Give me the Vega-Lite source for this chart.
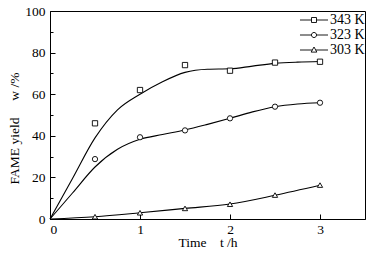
{
  "$schema": "https://vega.github.io/schema/vega-lite/v6.json",
  "width": 315,
  "height": 208,
  "autosize": {"type": "none"},
  "padding": {"left": 50, "top": 11, "right": 15, "bottom": 36},
  "background": "white",
  "config": {
    "view": {"stroke": "black", "strokeWidth": 1},
    "font": "Liberation Serif",
    "axis": {
      "grid": false,
      "domainColor": "black",
      "tickColor": "black",
      "labelColor": "black",
      "titleColor": "black",
      "labelFont": "Liberation Serif",
      "titleFont": "Liberation Serif",
      "labelFontSize": 13.5,
      "titleFontSize": 13.5,
      "titleFontWeight": "normal"
    },
    "legend": {"labelFont": "Liberation Serif", "labelFontSize": 14, "labelColor": "black"}
  },
  "datasets": {
    "fit": [
      {"series": "343 K", "t": 0, "y": 0}, {"series": "343 K", "t": 0.25, "y": 19.5}, {"series": "343 K", "t": 0.5, "y": 39},
      {"series": "343 K", "t": 0.75, "y": 52.5}, {"series": "343 K", "t": 1, "y": 60}, {"series": "343 K", "t": 1.25, "y": 66},
      {"series": "343 K", "t": 1.5, "y": 70.5}, {"series": "343 K", "t": 1.75, "y": 72}, {"series": "343 K", "t": 2, "y": 72.2},
      {"series": "343 K", "t": 2.25, "y": 73.5}, {"series": "343 K", "t": 2.5, "y": 74.8}, {"series": "343 K", "t": 2.75, "y": 75.4},
      {"series": "343 K", "t": 3, "y": 75.7},
      {"series": "323 K", "t": 0, "y": 0}, {"series": "323 K", "t": 0.25, "y": 12.5}, {"series": "323 K", "t": 0.5, "y": 25},
      {"series": "323 K", "t": 0.75, "y": 33.5}, {"series": "323 K", "t": 1, "y": 38.3}, {"series": "323 K", "t": 1.25, "y": 40.6},
      {"series": "323 K", "t": 1.5, "y": 42.8}, {"series": "323 K", "t": 1.75, "y": 45.5}, {"series": "323 K", "t": 2, "y": 48.4},
      {"series": "323 K", "t": 2.25, "y": 51.5}, {"series": "323 K", "t": 2.5, "y": 54}, {"series": "323 K", "t": 2.75, "y": 55.3},
      {"series": "323 K", "t": 3, "y": 55.9},
      {"series": "303 K", "t": 0, "y": 0}, {"series": "303 K", "t": 0.5, "y": 1.1}, {"series": "303 K", "t": 1, "y": 3},
      {"series": "303 K", "t": 1.5, "y": 5.1}, {"series": "303 K", "t": 2, "y": 7.2}, {"series": "303 K", "t": 2.5, "y": 11.4},
      {"series": "303 K", "t": 3, "y": 16.2}
    ],
    "obs": [
      {"series": "343 K", "t": 0.5, "y": 46}, {"series": "343 K", "t": 1, "y": 62}, {"series": "343 K", "t": 1.5, "y": 74},
      {"series": "343 K", "t": 2, "y": 71.3}, {"series": "343 K", "t": 2.5, "y": 75.2}, {"series": "343 K", "t": 3, "y": 75.6},
      {"series": "323 K", "t": 0.5, "y": 28.8}, {"series": "323 K", "t": 1, "y": 39.3}, {"series": "323 K", "t": 1.5, "y": 42.6},
      {"series": "323 K", "t": 2, "y": 48.4}, {"series": "323 K", "t": 2.5, "y": 54}, {"series": "323 K", "t": 3, "y": 55.9},
      {"series": "303 K", "t": 0.5, "y": 1.1}, {"series": "303 K", "t": 1, "y": 3}, {"series": "303 K", "t": 1.5, "y": 5.1},
      {"series": "303 K", "t": 2, "y": 7.1}, {"series": "303 K", "t": 2.5, "y": 11.5}, {"series": "303 K", "t": 3, "y": 16.3}
    ]
  },
  "encoding": {
    "x": {
      "field": "t", "type": "quantitative",
      "scale": {"domain": [0, 3.5], "nice": false},
      "axis": {
        "values": [0, 0.5, 1, 1.5, 2, 2.5, 3],
        "format": "d",
        "labelExpr": "datum.value % 1 === 0 ? datum.label : ''",
        "tickSize": {"condition": {"test": "datum.value % 1 === 0", "value": -5}, "value": -3},
        "labelPadding": 8,
        "title": "Time\u00a0\u00a0\u00a0\u00a0t /h",
        "titlePadding": 0
      }
    },
    "y": {
      "field": "y", "type": "quantitative",
      "scale": {"domain": [0, 100], "nice": false},
      "axis": {
        "values": [0, 10, 20, 30, 40, 50, 60, 70, 80, 90, 100],
        "labelExpr": "datum.value % 20 === 0 ? datum.label : ''",
        "tickSize": {"condition": {"test": "datum.value % 20 === 0", "value": -5}, "value": -3},
        "labelPadding": 10,
        "title": "FAME yield\u00a0\u00a0\u00a0\u00a0\u00a0w /%",
        "titleX": -36,
        "titleY": 117,
        "titleBaseline": "middle"
      }
    }
  },
  "layer": [
    {
      "data": {"name": "fit"},
      "mark": {"type": "line", "interpolate": "monotone", "color": "black", "strokeWidth": 1.1},
      "encoding": {"detail": {"field": "series"}}
    },
    {
      "data": {"name": "obs"},
      "mark": {"type": "point", "filled": false, "fill": "white", "fillOpacity": 1, "stroke": "black", "strokeWidth": 0.9, "size": 28, "opacity": 1},
      "encoding": {
        "shape": {
          "field": "series", "type": "nominal",
          "scale": {"domain": ["343 K", "323 K", "303 K"], "range": ["square", "circle", "triangle-up"]},
          "legend": null
        }
      }
    },
    {
      "data": {"name": "obs"},
      "mark": {"type": "point", "filled": false, "stroke": "black", "opacity": 0},
      "encoding": {
        "shape": {
          "field": "series", "type": "nominal",
          "scale": {"domain": ["343 K", "323 K", "303 K"], "range": [
            "M-4.67,0H-0.83M0.83,0H4.67M-0.83,-0.83H0.83V0.83H-0.83Z",
            "M-4.67,0H-0.85M0.85,0H4.67M-0.85,0A0.85,0.85,0,1,0,0.85,0A0.85,0.85,0,1,0,-0.85,0Z",
            "M-4.67,0H-0.56M0.56,0H4.67M0,-1L0.95,0.7H-0.95Z"
          ]},
          "legend": {
            "title": null,
            "orient": "none",
            "legendX": 257,
            "legendY": 2,
            "padding": 0,
            "symbolSize": 36,
            "symbolOpacity": 1,
            "symbolFillColor": "white",
            "symbolStrokeColor": "black",
            "symbolStrokeWidth": 0.9,
            "labelOffset": 9,
            "rowPadding": 1
          }
        }
      }
    }
  ],
  "resolve": {"scale": {"shape": "independent"}}
}
